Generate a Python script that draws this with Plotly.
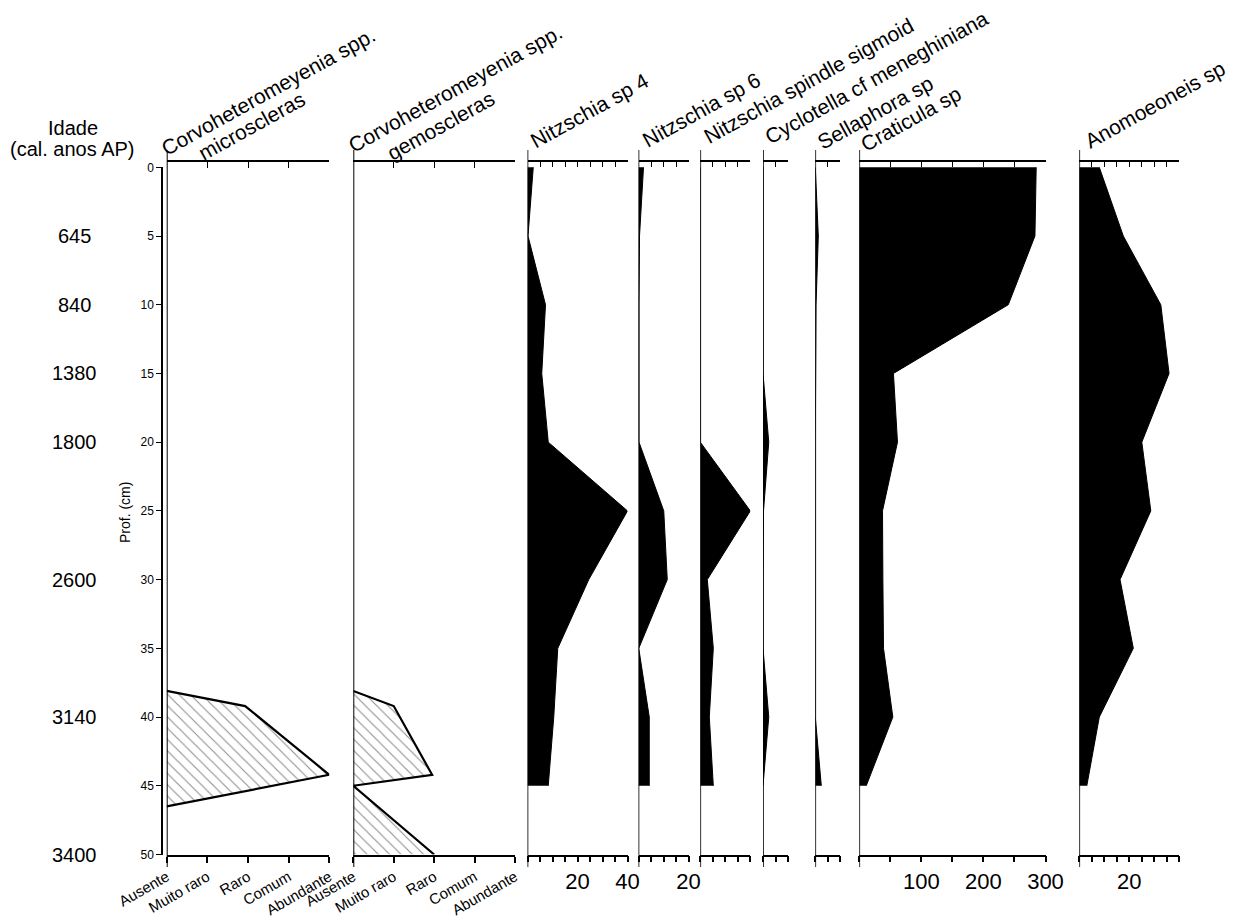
import plotly.graph_objects as go

W, H = 1235, 920

# ---- sample depths (cm) and counts per taxon ----
depth_cm = [0, 5, 10, 15, 20, 25, 30, 35, 40, 45]
nitzschia_sp4 = [2.3, 0.2, 7.2, 5.7, 8.3, 40.0, 24.5, 12.1, 10.5, 8.3]
nitzschia_sp6 = [2.0, 0.4, 0.2, 0.2, 0.2, 10.1, 11.5, 0.1, 4.3, 4.3]
nitzschia_sigmoid = [0, 0, 0, 0, 0, 20.0, 2.8, 5.2, 3.6, 5.2]
cyclotella = [0, 0, 0, 0, 2.3, 0.2, 0, 0, 2.3, 0]
sellaphora = [0, 1.2, 0.3, 0, 0, 0, 0, 0, 0, 2.4]
craticula = [285, 283, 240, 55, 61.5, 37.4, 38, 39, 54, 11.2]
anomoeoneis = [8.0, 17.6, 32.6, 35.9, 25.0, 28.6, 16.3, 21.6, 8.0, 3.0]

# ---- sponge spicules: semi-quantitative abundance classes ----
abundance_classes = ["Ausente", "Muito raro", "Raro", "Comum", "Abundante"]
micro_depth = [38.1, 39.2, 44.2, 46.5]
micro_score = [0, 1.93, 4, 0]
gemo_depth = [38.1, 39.2, 44.2, 45.0, 50.0]
gemo_score = [0, 1, 1.95, 0, 2]

# ---- calibrated ages ----
age_depth = [5, 10, 15, 20, 30, 40, 50]
age_label = ["645", "840", "1380", "1800", "2600", "3140", "3400"]

FONT = "Arial, Liberation Sans, sans-serif"


def px_x(p):
    return p / W


def px_y(p):
    return 1 - p / H


Y_TOP, Y_BOT = 161.8, 854.5
Y_DOMAIN = [px_y(Y_BOT), px_y(Y_TOP)]

num5 = lambda mx: list(range(0, mx + 1, 5))

panels = [
    dict(left=166.7, right=329.3, rng=4, tickvals=[0, 1, 2, 3, 4], ticktext=abundance_classes,
         kind="class", depth=micro_depth, vals=micro_score,
         titles=[("Corvoheteromeyenia spp.", 268.0, 91.5), ("microscleras", 252.5, 126.0)]),
    dict(left=353.3, right=515.0, rng=4, tickvals=[0, 1, 2, 3, 4], ticktext=abundance_classes,
         kind="class", depth=gemo_depth, vals=gemo_score,
         titles=[("Corvoheteromeyenia spp.", 455.0, 88.5), ("gemoscleras", 440.8, 125.0)]),
    dict(left=527.5, right=627.5, rng=40, tickvals=num5(40),
         ticktext=["" if v not in (20, 40) else str(v) for v in num5(40)],
         kind="count", depth=depth_cm, vals=nitzschia_sp4,
         titles=[("Nitzschia sp 4", 589.5, 110.5)]),
    dict(left=638.5, right=688.5, rng=20, tickvals=num5(20),
         ticktext=["" if v != 20 else "20" for v in num5(20)],
         kind="count", depth=depth_cm, vals=nitzschia_sp6,
         titles=[("Nitzschia sp 6", 701.7, 109.5)]),
    dict(left=700.3, right=750.3, rng=20, tickvals=num5(20), ticktext=["" for _ in num5(20)],
         kind="count", depth=depth_cm, vals=nitzschia_sigmoid,
         titles=[("Nitzschia spindle sigmoid", 809.0, 81.0)]),
    dict(left=763.0, right=788.0, rng=10, tickvals=num5(10), ticktext=["" for _ in num5(10)],
         kind="count", depth=depth_cm, vals=cyclotella,
         titles=[("Cyclotella cf meneghiniana", 876.0, 77.5)]),
    dict(left=815.3, right=840.3, rng=10, tickvals=num5(10), ticktext=["" for _ in num5(10)],
         kind="count", depth=depth_cm, vals=sellaphora,
         titles=[("Sellaphora sp", 875.0, 112.5)]),
    dict(left=859.3, right=1045.5, rng=300, tickvals=list(range(0, 301, 50)),
         ticktext=["" if v % 100 or v == 0 else str(v) for v in range(0, 301, 50)],
         kind="count", depth=depth_cm, vals=craticula,
         titles=[("Craticula sp", 911.0, 118.0)]),
    dict(left=1079.3, right=1179.3, rng=40, tickvals=num5(40),
         ticktext=["" if v != 20 else "20" for v in num5(40)],
         kind="count", depth=depth_cm, vals=anomoeoneis,
         titles=[("Anomoeoneis sp", 1155.0, 105.0)]),
]

fig = go.Figure()
layout = dict(
    width=W, height=H, autosize=False,
    margin=dict(l=0, r=0, t=0, b=0, pad=0, autoexpand=False),
    paper_bgcolor="white", plot_bgcolor="rgba(0,0,0,0)",
    showlegend=False,
    font=dict(family=FONT, color="black"),
    yaxis=dict(domain=Y_DOMAIN, range=[50, -0.4], visible=False, automargin=False),
    yaxis2=dict(domain=[px_y(Y_BOT), px_y(167.3)], range=[50, 0], anchor="free",
                position=px_x(162), side="left", showline=True, linecolor="black",
                linewidth=1.5, ticks="outside", ticklen=5, tickwidth=1.2, tickcolor="black",
                tickvals=list(range(0, 51, 5)),
                tickfont=dict(size=12, family=FONT, color="black"),
                showgrid=False, zeroline=False, automargin=False),
)
shapes = []
annotations = []

n = len(panels)
for i, p in enumerate(panels, start=1):
    xa = "x" if i == 1 else f"x{i}"
    top_i = i + n
    xa_top = f"x{top_i}"
    dom = [px_x(p["left"]), px_x(p["right"])]
    is_class = p["kind"] == "class"

    layout[f"xaxis{'' if i == 1 else i}"] = dict(
        domain=dom, range=[0, p["rng"]], anchor="y", side="bottom",
        showline=True, linecolor="black", linewidth=2 if is_class else 1.6,
        ticks="outside", ticklen=6, tickwidth=1.6, tickcolor="black",
        tickmode="array", tickvals=p["tickvals"], ticktext=p["ticktext"],
        tickangle=-30 if is_class else 0,
        tickfont=dict(size=15 if is_class else 22, family=FONT, color="black"),
        showgrid=False, zeroline=False, automargin=False,
    )
    layout[f"xaxis{top_i}"] = dict(
        domain=dom, range=[0, p["rng"]], anchor="y", side="top", overlaying=xa,
        showline=True, linecolor="black", linewidth=2 if is_class else 1.6,
        ticks="inside", ticklen=6 if is_class else 5, tickwidth=1.4, tickcolor="black",
        tickmode="array", tickvals=p["tickvals"], showticklabels=False,
        showgrid=False, zeroline=False, automargin=False,
    )
    fig.add_trace(go.Scatter(x=[None], y=[None], xaxis=xa_top, yaxis="y",
                             hoverinfo="skip", showlegend=False))

    if is_class:
        fig.add_trace(go.Scatter(
            x=p["vals"], y=p["depth"], xaxis=xa, yaxis="y", mode="lines",
            fill="tozerox", fillcolor="white",
            fillpattern=dict(shape="\\", fgcolor="#222222", bgcolor="white",
                             size=8, solidity=0.14),
            line=dict(color="black", width=2.2), hoverinfo="skip"))
    else:
        fig.add_trace(go.Scatter(
            x=p["vals"], y=p["depth"], xaxis=xa, yaxis="y", mode="lines",
            fill="tozerox", fillcolor="black",
            line=dict(color="black", width=1), hoverinfo="skip"))

    # vertical baseline of each panel, running a little past both axes
    shapes.append(dict(type="line", xref=xa, yref="paper", x0=0, x1=0,
                       y0=px_y(867), y1=px_y(150), layer="above",
                       line=dict(color="black", width=2 if is_class else 1.6)))

    for text, cx, cy in p["titles"]:
        annotations.append(dict(text=text, xref="paper", yref="paper",
                                x=px_x(cx), y=px_y(cy), xanchor="center", yanchor="middle",
                                textangle=-29, showarrow=False,
                                font=dict(size=21, family=FONT, color="black")))

# depth-axis carrier trace
fig.add_trace(go.Scatter(x=[None], y=[None], xaxis="x", yaxis="y2",
                         hoverinfo="skip", showlegend=False))

# age column
annotations.append(dict(text="Idade", xref="paper", yref="paper", x=px_x(72.5), y=px_y(128),
                        xanchor="center", yanchor="middle", showarrow=False,
                        font=dict(size=20, family=FONT)))
annotations.append(dict(text="(cal. anos AP)", xref="paper", yref="paper", x=px_x(72.5),
                        y=px_y(149), xanchor="center", yanchor="middle", showarrow=False,
                        font=dict(size=20, family=FONT)))
for d, lab in zip(age_depth, age_label):
    annotations.append(dict(text=lab, xref="paper", yref="y2", x=px_x(74), y=d,
                            xanchor="center", yanchor="middle", showarrow=False,
                            font=dict(size=20, family=FONT)))

annotations.append(dict(text="Prof. (cm)", xref="paper", yref="paper", x=px_x(125),
                        y=px_y(513), xanchor="center", yanchor="middle", textangle=-90,
                        showarrow=False, font=dict(size=14, family=FONT)))

layout["shapes"] = shapes
layout["annotations"] = annotations
fig.update_layout(**layout)

fig.write_html("out.html")
